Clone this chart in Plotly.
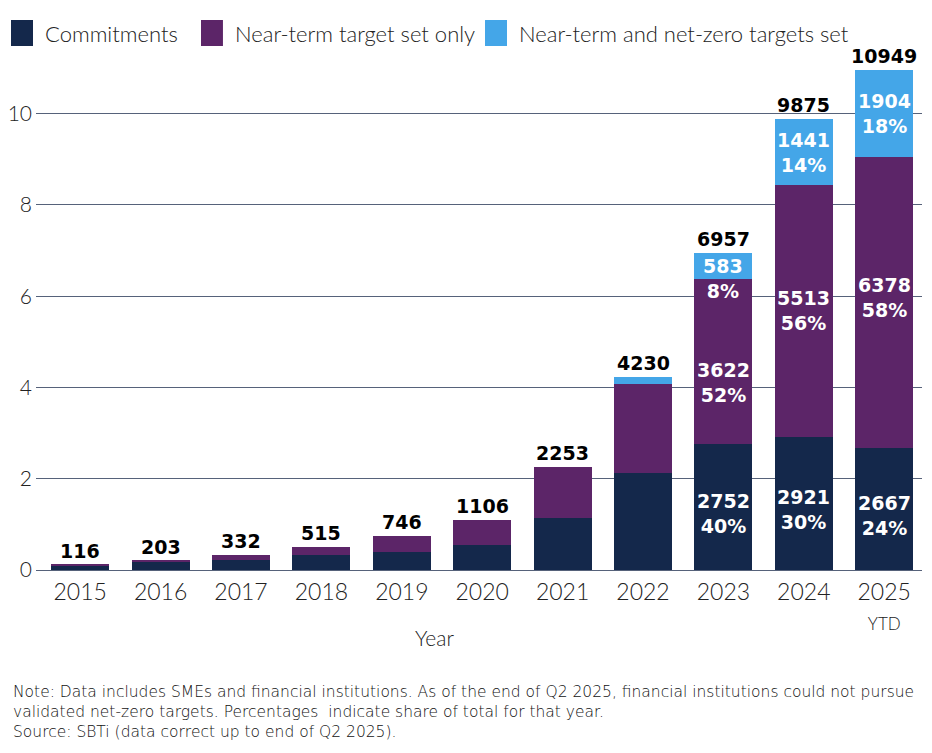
import plotly.graph_objects as go

years = ["2015", "2016", "2017", "2018", "2019", "2020", "2021", "2022", "2023", "2024", "2025"]
tick_text = ["2015", "2016", "2017", "2018", "2019", "2020", "2021", "2022", "2023", "2024",
             "2025<br><span style='font-size:17px'>YTD</span>"]

commitments = [100, 188, 220, 330, 395, 550, 1147, 2134, 2752, 2921, 2667]
near_term = [16, 15, 112, 185, 351, 556, 1106, 1946, 3622, 5513, 6378]
net_zero = [0, 0, 0, 0, 0, 0, 0, 150, 583, 1441, 1904]
totals = [116, 203, 332, 515, 746, 1106, 2253, 4230, 6957, 9875, 10949]

# shares shown inside the large bars (2023-2025)
pct_commit = {"2023": 40, "2024": 30, "2025": 24}
pct_near = {"2023": 52, "2024": 56, "2025": 58}
pct_net = {"2023": 8, "2024": 14, "2025": 18}

series_names = ["Commitments", "Near-term target set only", "Near-term and net-zero targets set"]
navy = "#14284b"
purple = "#5c2568"
blue = "#44a6e8"
colors = [navy, purple, blue]
font_light = "Lato"
font_bold = "DejaVu Sans"

fig = go.Figure()
for name, vals, col in zip(series_names, [commitments, near_term, net_zero], colors):
    fig.add_trace(go.Bar(x=years, y=[v / 1000 for v in vals], name=name,
                         marker=dict(color=col, line=dict(width=0))))

# totals above the bars
for i, t in enumerate(totals):
    fig.add_annotation(x=i, y=t / 1000, text="<b>%d</b>" % t, showarrow=False,
                       yanchor="bottom", yshift=1,
                       font=dict(family=font_bold, size=19, color="black"))

# labels inside the segments
for i, yr in enumerate(years):
    if yr not in pct_commit:
        continue
    c, n, z = commitments[i], near_term[i], net_zero[i]
    segs = [(c / 2, c, pct_commit[yr], -6),
            (c + n / 2, n, pct_near[yr], {"2023": -21, "2025": 5}.get(yr, 0)),
            (c + n + z / 2, z, pct_net[yr], -13 if yr == "2023" else 0)]
    for mid, v, p, shift in segs:
        fig.add_annotation(x=i, y=mid / 1000, text="<b>%d<br>%d%%</b>" % (v, p),
                           showarrow=False, yshift=shift,
                           font=dict(family=font_bold, size=19, color="white"))

# legend drawn by hand: big square swatches like the original
swatch_x = [-0.0282, 0.1862, 0.5068]
for sx, name, col in zip(swatch_x, series_names, colors):
    fig.add_shape(type="rect", xref="paper", yref="paper", x0=sx, x1=sx + 0.0248,
                  y0=1.0438, y1=1.0956, fillcolor=col, line=dict(width=0))
    fig.add_annotation(x=sx + 0.036, y=1.0697, xref="paper", yref="paper", text=name,
                       showarrow=False, xanchor="left", yanchor="middle",
                       font=dict(family=font_light, size=22, color="#222", weight=300))

fig.add_annotation(x=0.45, y=-0.134, xref="paper", yref="paper", text="Year",
                   showarrow=False, yanchor="middle",
                   font=dict(family=font_light, size=21, color="#222", weight=300))

notes = ("Note: Data includes SMEs and financial institutions. As of the end of Q2 2025, financial institutions could not pursue<br>"
         "validated net-zero targets. Percentages  indicate share of total for that year.<br>"
         "Source: SBTi (data correct up to end of Q2 2025).")
fig.add_annotation(x=-0.028, y=-0.222, xref="paper", yref="paper", text=notes,
                   showarrow=False, xanchor="left", yanchor="top", align="left",
                   font=dict(family="DejaVu Sans", size=15.5, color="#111"))

# page has an 8px body margin, so margins are offset by it
fig.update_layout(
    barmode="stack", bargap=0.28,
    width=932, height=753,
    margin=dict(l=28, r=18, t=60, b=191, autoexpand=False),
    plot_bgcolor="white", paper_bgcolor="white",
    font=dict(family=font_light, size=23, color="#222", weight=300),
    showlegend=False,
)
fig.update_xaxes(type="category", tickvals=years, ticktext=tick_text, range=[-0.55, 10.47],
                 showgrid=False, ticks="", showline=False, ticklabelstandoff=6)
fig.update_yaxes(range=[0, 11], tickvals=[0, 2, 4, 6, 8, 10], showgrid=True,
                 gridcolor="#56627a", gridwidth=1, zeroline=True,
                 zerolinecolor="#56627a", zerolinewidth=1, ticks="",
                 ticklabelstandoff=3, tickfont=dict(size=21))

fig.write_html("out.html")
